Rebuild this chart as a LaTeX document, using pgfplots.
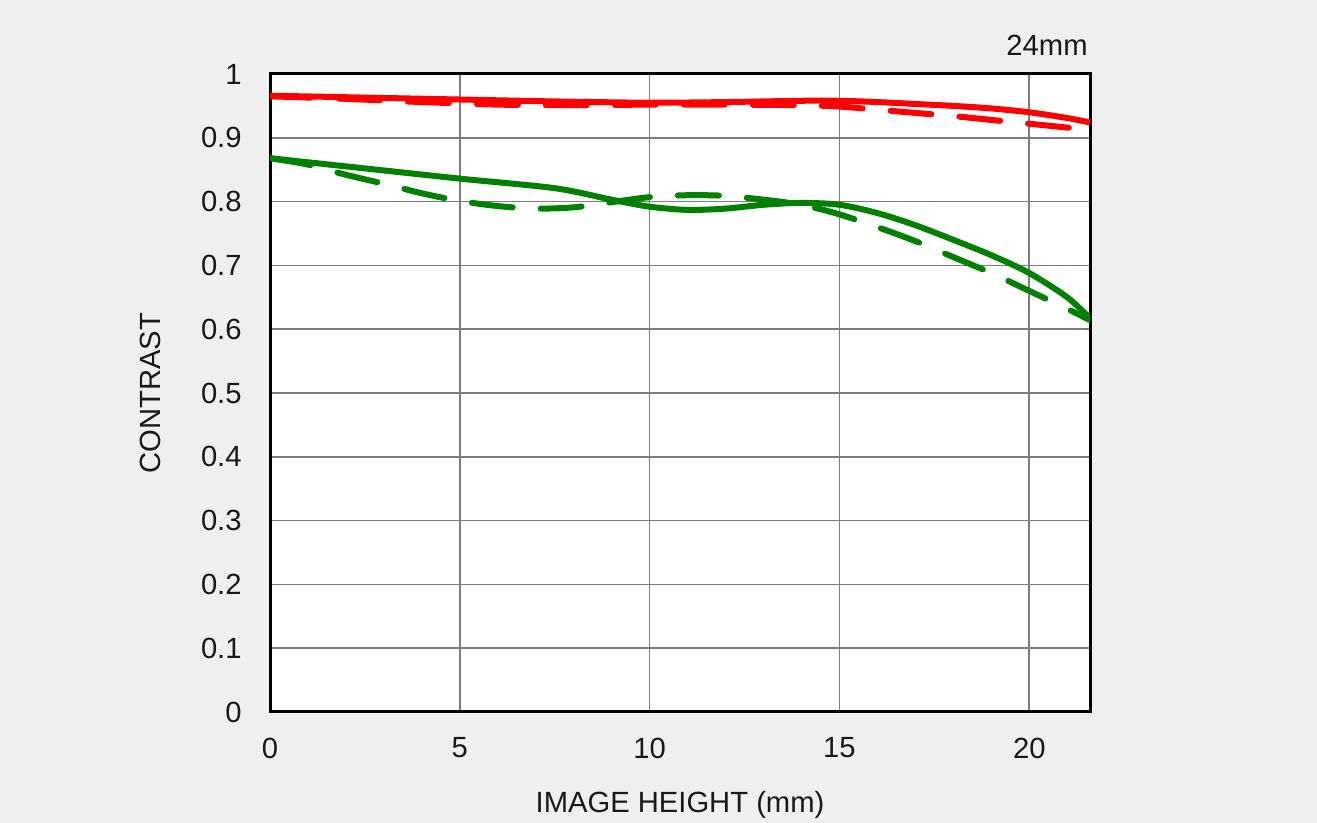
\documentclass[border=0pt]{standalone}
\usepackage{pgfplots}
\pgfplotsset{compat=1.18}
\usepackage{fontspec}
\setmainfont{Liberation Sans}
\definecolor{bg}{RGB}{239,239,239}
\definecolor{gridc}{RGB}{125,125,125}
\definecolor{mtfred}{RGB}{255,0,0}
\definecolor{mtfgreen}{RGB}{0,128,0}
\begin{document}
\begin{tikzpicture}
\useasboundingbox[fill=bg] (0,0) rectangle (658.5pt,411.5pt);
\begin{axis}[
  at={(135pt,55.5pt)}, anchor=south west,
  scale only axis, width=410pt, height=319pt,
  xmin=0, xmax=21.6, ymin=0, ymax=1,
  xtick={0,5,10,15,20},
  ytick={0,0.1,0.2,0.3,0.4,0.5,0.6,0.7,0.8,0.9,1},
  yticklabels={0,0.1,0.2,0.3,0.4,0.5,0.6,0.7,0.8,0.9,1},
  major tick length=0pt,
  grid=major,
  grid style={color=gridc, line width=0.8pt},
  axis line style={line width=1.5pt, black},
  axis background/.style={fill=white},
  /pgf/number format/assume math mode=true,
  tick label style={font=\fontsize{14.6}{17}\selectfont, text=black!90, inner sep=0pt},
  xticklabel style={anchor=north, yshift=-12.75pt},
  yticklabel style={anchor=east, xshift=-14pt},
  xlabel={IMAGE HEIGHT (mm)},
  ylabel={CONTRAST},
  every axis x label/.style={at={(axis description cs:0.5,-0.1575)}, anchor=base, font=\fontsize{14.6}{17}\selectfont, text=black!90},
  every axis y label/.style={at={(axis description cs:-0.1463,0.5)}, anchor=center, rotate=90, font=\fontsize{14.6}{17}\selectfont, text=black!90},
  title={24mm},
  every axis title shift=0pt,
  title style={at={(axis description cs:1,1)}, anchor=base east, inner sep=0pt, yshift=9pt, xshift=-1pt, font=\fontsize{14.6}{17}\selectfont, text=black!90},
  every axis plot/.append style={line width=3pt, line cap=round, line join=round},
]
% red solid
\addplot[mtfred, smooth] coordinates {
(0,0.966) (2.5,0.963) (5,0.960) (7.5,0.957) (10,0.955) (12,0.956) (14,0.958) (15,0.958) (16,0.956) (17,0.953) (18,0.950) (19,0.946) (20,0.940) (21,0.931) (21.6,0.924)};
% red dashed
\addplot[mtfred, smooth, dash pattern=on 20.5pt off 14pt] coordinates {
(0,0.965) (2,0.961) (4,0.956) (6,0.952) (8,0.951) (10,0.952) (12,0.952) (14,0.951) (15,0.949) (16,0.944) (17,0.939) (18,0.934) (19,0.928) (20,0.922) (21,0.916) (21.6,0.912)};
% green solid
\addplot[mtfgreen, smooth] coordinates {
(0,0.868) (2.5,0.852) (5,0.836) (7.5,0.821) (9,0.803) (10,0.792) (11,0.787) (12,0.789) (13,0.795) (14,0.798) (15,0.795) (16,0.782) (17,0.763) (18,0.740) (19,0.716) (20,0.688) (21,0.650) (21.6,0.617)};
% green dashed
\addplot[mtfgreen, smooth, dash pattern=on 20.5pt off 14pt] coordinates {
(0,0.868) (1,0.858) (2,0.842) (3,0.828) (4,0.813) (5,0.801) (6,0.793) (7,0.789) (8,0.791) (9,0.799) (10,0.807) (11,0.810) (12,0.809) (13,0.803) (14,0.795) (15,0.780) (16,0.760) (17,0.738) (18,0.713) (19,0.688) (20,0.660) (21,0.632) (21.6,0.614)};
\end{axis}
\end{tikzpicture}
\end{document}
